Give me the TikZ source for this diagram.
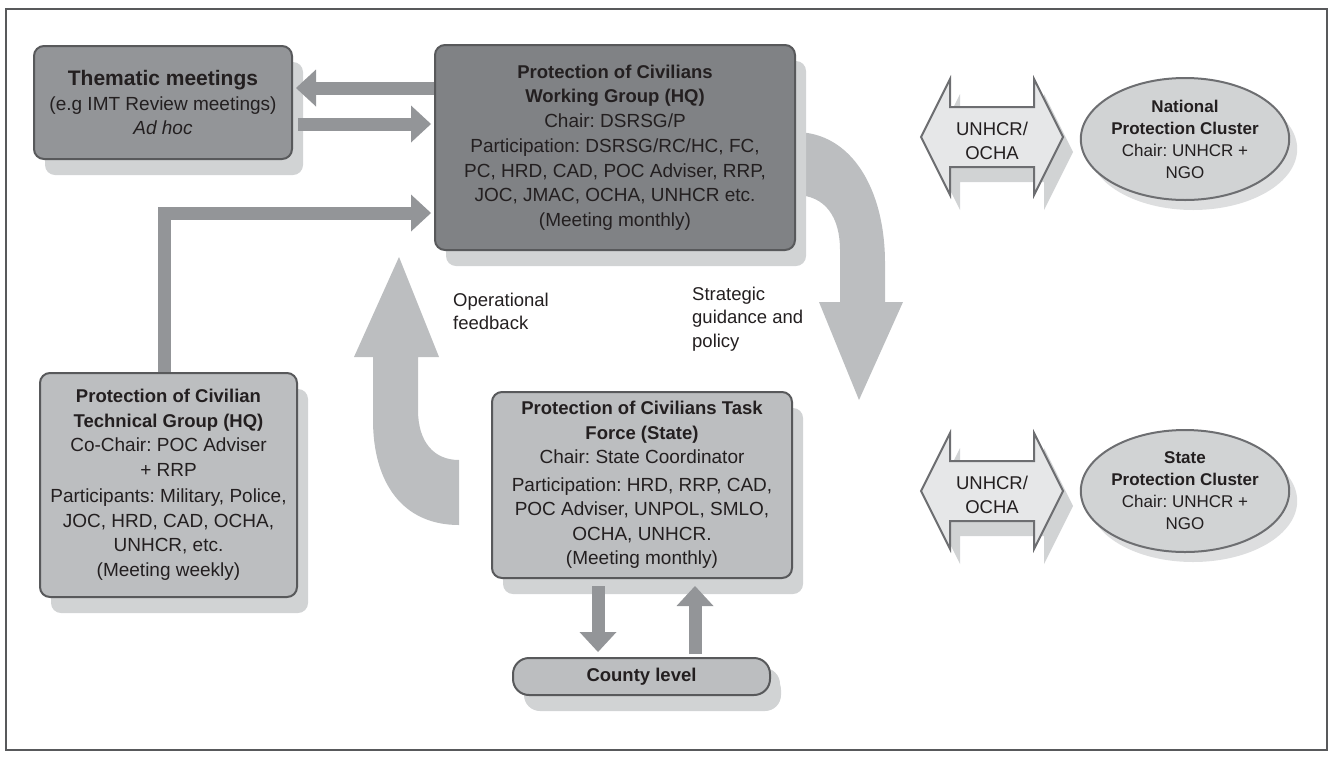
\documentclass[tikz,border=0pt]{standalone}
\usepackage{fontspec}
\setmainfont{Liberation Sans}
\usetikzlibrary{arrows.meta,shadows,calc,shapes.geometric}
\definecolor{textcol}{HTML}{231F20}
\definecolor{bordercol}{HTML}{58595B}
\definecolor{wgfill}{HTML}{808285}
\definecolor{themfill}{HTML}{939598}
\definecolor{lightfill}{HTML}{BCBEC0}
\definecolor{shadowcol}{HTML}{D1D3D4}
\definecolor{arrowcol}{HTML}{939598}
\definecolor{bandcol}{HTML}{BCBEC0}
\definecolor{dblfill}{HTML}{E6E7E8}
\definecolor{dblborder}{HTML}{6D6E71}
\definecolor{ellfill}{HTML}{D1D3D4}
\definecolor{ellshadow}{HTML}{DDDEDF}
\newcommand\hd[1]{{\fontsize{18.5}{24.5}\selectfont\bfseries #1}}
\frenchspacing
\begin{document}
\begin{tikzpicture}[x=1pt,y=-1pt,
  box/.style={draw=bordercol, line width=2pt, rounded corners=10pt, align=center,
    text=textcol, font=\fontsize{19}{24.5}\selectfont, inner sep=0pt,
    drop shadow={shadow xshift=11pt, shadow yshift=-16pt, fill=shadowcol, opacity=1}},
  smallarr/.style={draw=arrowcol, line width=13pt,
    -{Triangle[length=20pt,width=37pt,line width=0pt]}},
  lbl/.style={align=left, text=textcol, font=\fontsize{18.5}{23.5}\selectfont, inner sep=0pt, anchor=west},
  ell/.style={ellipse, draw=dblborder, line width=2pt, fill=ellfill, align=center,
    text=textcol, font=\fontsize{17}{22}\selectfont, inner sep=0pt,
    minimum width=170pt, minimum height=122pt,
    drop shadow={shadow xshift=8pt, shadow yshift=-10pt, fill=ellshadow, opacity=1}},
  dbltext/.style={align=center, text=textcol, font=\fontsize{18.5}{24}\selectfont, inner sep=0pt}
]
\useasboundingbox (0,0) rectangle (1332,756);
\draw[bordercol, line width=1.5pt] (6,9) rectangle (1327,750);

% big curved band arrows
\fill[bandcol] (399,257) -- (439,357) -- (418,357) -- (418,410)
  .. controls (418,442) and (434,460) .. (459,460) -- (459,525)
  .. controls (402,525) and (373,482) .. (373,420) -- (373,357) -- (354,357) -- cycle;
\fill[bandcol] (795,132) .. controls (852,132) and (885,190) .. (885,263)
  -- (885,302) -- (903,302) -- (859,400) -- (819,302) -- (840,302) -- (840,250)
  .. controls (840,218) and (826,195) .. (795,195) -- cycle;

% boxes
\node[box, fill=themfill, minimum width=258pt, minimum height=113pt] (them) at (163,102.5)
  {{\fontsize{21}{27}\selectfont\bfseries Thematic meetings}\\(e.g IMT Review meetings)\\\textit{Ad hoc}};
\node[box, fill=wgfill, minimum width=360pt, minimum height=205pt] (wg) at (615,147.5)
  {\hd{Protection of Civilians}\\\hd{Working Group (HQ)}\\Chair: DSRSG/P\\[1pt]Participation: DSRSG/RC/HC, FC,\\PC, HRD, CAD, POC Adviser, RRP,\\JOC, JMAC, OCHA, UNHCR etc.\\(Meeting monthly)};
\node[box, fill=lightfill, minimum width=257pt, minimum height=224pt] (tech) at (168.5,485)
  {\hd{Protection of Civilian}\\\hd{Technical Group (HQ)}\\Co-Chair: POC Adviser\\+ RRP\\[2pt]Participants: Military, Police,\\JOC, HRD, CAD, OCHA,\\UNHCR, etc.\\(Meeting weekly)};
\node[box, fill=lightfill, minimum width=300pt, minimum height=186pt] (state) at (642,485)
  {\hd{Protection of Civilians Task}\\\hd{Force (State)}\\Chair: State Coordinator\\[3pt]Participation: HRD, RRP, CAD,\\POC Adviser, UNPOL, SMLO,\\OCHA, UNHCR.\\(Meeting monthly)};
\node[box, fill=lightfill, rounded corners=16pt, minimum width=257pt, minimum height=37pt,
  drop shadow={shadow xshift=10pt, shadow yshift=-10pt, fill=shadowcol, opacity=1}] (county) at (641.5,676.5)
  {\hd{County level}};

% small connectors
\coordinate (y88) at (0,88);
\coordinate (y124) at (0,124);
\coordinate (y213) at (0,213);
\draw[smallarr] (wg.west |- y88) -- ($(them.east |- y88)+(3,0)$);
\draw[smallarr] ($(them.east |- y124)+(5,0)$) -- ($(wg.west |- y124)+(-3,0)$);
\draw[smallarr] ($(tech.north)+(-4.5,0)$) |- ($(wg.west |- y213)+(-3,0)$);
\draw[smallarr] ($(state.south)+(-44,7)$) -- ($(county.north)+(-43.5,-5)$);
\draw[smallarr] ($(county.north)+(53.5,-3)$) -- ($(state.south)+(53,7)$);

% labels
\node[lbl] (opfb) at (453,311.5) {Operational\\feedback};
\node[lbl] (strat) at (692,319) {Strategic\\guidance and\\policy};

% double arrows UNHCR/OCHA
\foreach \cy/\nm in {137/uo1, 491/uo2}{
  \begin{scope}[shift={(992,\cy)}]
    \fill[shadowcol, shift={(10,15)}] (-71,0) -- (-42,-58) -- (-42,-30) -- (42,-30) -- (42,-58)
      -- (71,0) -- (42,58) -- (42,30) -- (-42,30) -- (-42,58) -- cycle;
    \filldraw[fill=dblfill, draw=dblborder, line width=2pt, line join=miter]
      (-71,0) -- (-42,-58) -- (-42,-30) -- (42,-30) -- (42,-58)
      -- (71,0) -- (42,58) -- (42,30) -- (-42,30) -- (-42,58) -- cycle;
    \node[dbltext] (\nm) at (0,4) {UNHCR/\\OCHA};
  \end{scope}
}

% ellipses
\node[ell] (npc) at (1185,139) {\textbf{National}\\\textbf{Protection Cluster}\\Chair: UNHCR +\\NGO};
\node[ell] (spc) at (1185,491) {\textbf{State}\\\textbf{Protection Cluster}\\Chair: UNHCR +\\NGO};
\end{tikzpicture}
\end{document}
